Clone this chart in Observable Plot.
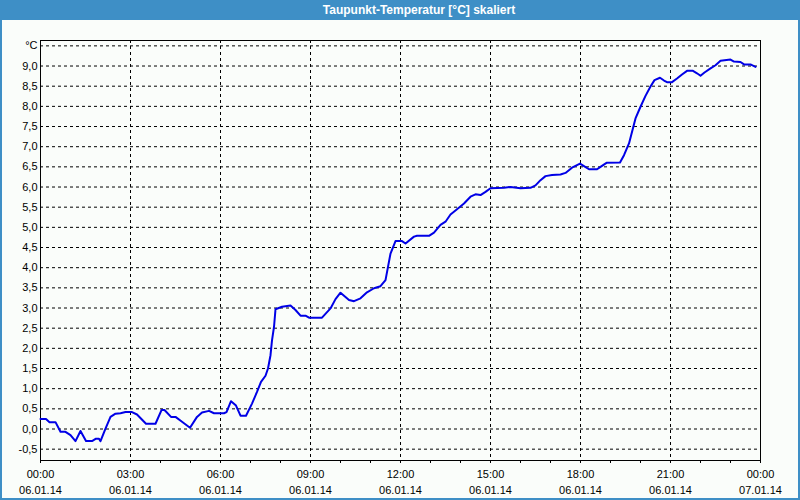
<!DOCTYPE html>
<html>
<head>
<meta charset="utf-8">
<script src="https://cdn.jsdelivr.net/npm/d3@7"></script>
<script src="https://cdn.jsdelivr.net/npm/@observablehq/plot@0.6"></script>
<style>
html, body { margin: 0; padding: 0; background: #ffffff; }
#wrap { position: relative; width: 800px; height: 500px; background: #FAFDFA; overflow: hidden; }
#title { position: absolute; left: 0; top: 0; width: 800px; height: 20px; background: #3E8FC6; color: #ffffff;
  font: bold 12px "Liberation Sans", Arial, sans-serif; line-height: 20px; text-align: center;
  box-sizing: border-box; padding-left: 38px; }
#chart { position: absolute; left: 0; top: 20px; }
#border { position: absolute; left: 0; top: 0; width: 800px; height: 500px; box-sizing: border-box;
  border: 2px solid #3E8FC6; border-top: none; pointer-events: none; }
</style>
</head>
<body>
<div id="wrap">
  <div id="title">Taupunkt-Temperatur [°C] skaliert</div>
  <div id="chart"></div>
  <div id="border"></div>
</div>
<script>
// Measurement times (06.01.14) and dew point values in °C
const times = ["00:00","00:11","00:18","00:30","00:40","00:50","01:00","01:10","01:20","01:31",
  "01:43","01:51","01:57","02:00","02:10","02:20","02:30","02:40","02:50","03:03",
  "03:13","03:31","03:50","04:02","04:08","04:21","04:30","04:43","04:59","05:13",
  "05:23","05:37","05:47","06:07","06:12","06:21","06:31","06:40","06:51","07:03",
  "07:13","07:21","07:30","07:35","07:40","07:43","07:47","07:50","08:03","08:20",
  "08:30","08:40","08:50","08:57","09:23","09:40","09:50","10:00","10:17","10:27",
  "10:40","10:53","11:07","11:20","11:30","11:35","11:40","11:50","12:03","12:10",
  "12:27","12:33","12:57","13:07","13:20","13:30","13:40","13:53","14:07","14:20",
  "14:30","14:40","14:50","15:00","15:27","15:40","16:00","16:20","16:30","16:40",
  "16:50","17:03","17:20","17:30","17:43","17:59","18:07","18:17","18:33","18:40",
  "18:52","19:19","19:27","19:37","19:50","20:00","20:10","20:20","20:28","20:39",
  "20:47","20:53","21:03","21:13","21:23","21:33","21:45","21:53","22:00","22:08",
  "22:20","22:30","22:40","23:00","23:07","23:20","23:27","23:40","23:50"];
const values = [0.25,0.25,0.17,0.17,-0.07,-0.07,-0.15,-0.30,-0.05,-0.30,
  -0.30,-0.24,-0.24,-0.30,0.01,0.30,0.38,0.39,0.42,0.42,
  0.36,0.13,0.13,0.47,0.47,0.30,0.30,0.18,0.03,0.30,
  0.41,0.45,0.39,0.39,0.42,0.69,0.58,0.33,0.33,0.63,
  0.92,1.17,1.32,1.50,1.83,2.20,2.53,2.97,3.03,3.06,
  2.95,2.81,2.81,2.76,2.76,2.99,3.22,3.38,3.20,3.17,
  3.24,3.39,3.49,3.54,3.69,4.02,4.35,4.66,4.66,4.60,
  4.77,4.79,4.79,4.87,5.06,5.14,5.32,5.45,5.59,5.76,
  5.82,5.80,5.88,5.97,5.98,6.00,5.97,5.98,6.04,6.17,
  6.27,6.30,6.31,6.35,6.48,6.58,6.52,6.44,6.44,6.50,
  6.60,6.61,6.79,7.08,7.70,7.99,8.26,8.49,8.65,8.71,
  8.64,8.60,8.60,8.69,8.79,8.88,8.88,8.82,8.76,8.84,
  8.94,9.02,9.13,9.16,9.11,9.10,9.04,9.04,8.98];

// Axis ticks and labels
const majorHours = [0, 3, 6, 9, 12, 15, 18, 21, 24];
const majorTimeLabels = ["00:00","03:00","06:00","09:00","12:00","15:00","18:00","21:00","00:00"];
const majorDateLabels = ["06.01.14","06.01.14","06.01.14","06.01.14","06.01.14","06.01.14","06.01.14","06.01.14","07.01.14"];
const gridHours = [3, 6, 9, 12, 15, 18, 21];
const hourTicks = [0,1,2,3,4,5,6,7,8,9,10,11,12,13,14,15,16,17,18,19,20,21,22,23,24];
const yTicks = [-0.5,0,0.5,1,1.5,2,2.5,3,3.5,4,4.5,5,5.5,6,6.5,7,7.5,8,8.5,9,9.5];
const yTickLabels = ["-0,5","0,0","0,5","1,0","1,5","2,0","2,5","3,0","3,5","4,0","4,5","5,0","5,5","6,0","6,5","7,0","7,5","8,0","8,5","9,0","°C"];

const data = times.map((t, i) => {
  const [hh, mm] = t.split(":").map(Number);
  return { h: hh + mm / 60, v: values[i] };
});
const yLabel = new Map(yTicks.map((d, i) => [d, yTickLabels[i]]));

const dash = { stroke: "#000", strokeOpacity: 1, strokeDasharray: "3,3", strokeWidth: 1 };

const chart = Plot.plot({
  width: 800,
  height: 480,
  marginTop: 20,
  marginBottom: 40,
  marginLeft: 40,
  marginRight: 40,
  style: { background: "transparent", fontFamily: "'Liberation Sans', Arial, sans-serif", fontSize: "11px", color: "#000" },
  x: { type: "linear", domain: [0, 24], label: null },
  y: { domain: [-0.781, 9.633], label: null },
  marks: [
    Plot.gridY(yTicks, dash),
    Plot.gridX(gridHours, dash),
    Plot.frame({ stroke: "#000", strokeWidth: 1 }),
    Plot.axisY(yTicks, { tickSize: 0, tickPadding: 3, tickFormat: d => yLabel.get(d), fill: "#000" }),
    Plot.axisX(hourTicks, { tickSize: 3, tickFormat: () => "", stroke: "#000" }),
    Plot.text(majorHours, { x: d => d, frameAnchor: "bottom", text: (d, i) => majorTimeLabels[i],
      lineAnchor: "bottom", dy: 17.5, fill: "#000", fontSize: 11 }),
    Plot.text(majorHours, { x: d => d, frameAnchor: "bottom", text: (d, i) => majorDateLabels[i],
      lineAnchor: "bottom", dy: 33, fill: "#000", fontSize: 11 }),
    Plot.line(data, { x: "h", y: "v", stroke: "#0000E6", strokeWidth: 2 })
  ]
});
document.getElementById("chart").appendChild(chart);
</script>
</body>
</html>
